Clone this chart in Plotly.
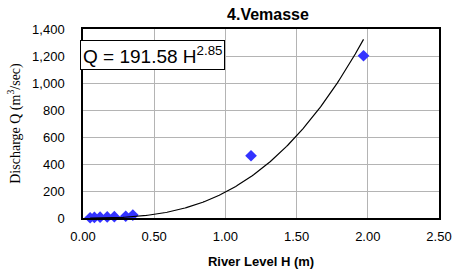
import numpy as np
import plotly.graph_objects as go

# Observed data
river_level_h = [0.05, 0.08, 0.12, 0.17, 0.22, 0.30, 0.35, 1.18, 1.97]
discharge_q = [2, 4, 6, 8, 10, 13, 22, 461, 1202]

# Power trendline: Q = a * H^b
coef_a = 191.58
coef_b = 2.85
fit_h_min = 0.05
fit_h_max = 1.97

x_ticks = [0.0, 0.5, 1.0, 1.5, 2.0, 2.5]
y_ticks = [0, 200, 400, 600, 800, 1000, 1200, 1400]

fit_h = np.linspace(fit_h_min, fit_h_max, 200)
fit_q = coef_a * fit_h ** coef_b

fig = go.Figure()
fig.add_trace(go.Scatter(
    x=river_level_h, y=discharge_q, mode="markers",
    marker=dict(symbol="diamond", size=9, color="#3333FF", line=dict(width=0)),
    cliponaxis=False, showlegend=False,
))
fig.add_trace(go.Scatter(
    x=fit_h, y=fit_q, mode="lines",
    line=dict(color="black", width=1.2),
    showlegend=False,
))

fig.update_layout(
    width=452, height=276,
    margin=dict(l=83, r=13, t=29, b=58),
    paper_bgcolor="white", plot_bgcolor="white",
    font=dict(family="Liberation Sans, Arial, sans-serif", size=13, color="black"),
    title=dict(text="<b>4.Vemasse</b>", x=268 / 452, xanchor="center",
               y=1 - 14 / 276, yanchor="middle",
               font=dict(size=16, color="black")),
    xaxis=dict(
        range=[0, 2.5], tickvals=x_ticks, tickformat=".2f",
        showgrid=True, gridcolor="#B4B4B4", gridwidth=1,
        showline=True, linecolor="black", linewidth=1.5, mirror=True,
        zeroline=False, ticks="", ticklabelstandoff=6, automargin=False,
        title=dict(text="<b>River Level H (m)</b>", font=dict(size=13), standoff=14),
    ),
    yaxis=dict(
        range=[0, 1400], tickvals=y_ticks, tickformat=",",
        showgrid=True, gridcolor="#B4B4B4", gridwidth=1,
        showline=True, linecolor="black", linewidth=1.5, mirror=True,
        zeroline=False, ticks="", ticklabelstandoff=14, automargin=False,
        title=dict(text="Discharge Q (m<sup>3</sup>/sec)",
                   font=dict(family="Liberation Serif, Times New Roman, serif", size=14),
                   standoff=8),
    ),
    annotations=[dict(
        text="Q = 191.58 H<sup>2.85</sup>",
        xref="paper", yref="paper", x=-3 / 356, y=(218 - 40) / 189,
        xanchor="left", yanchor="top", showarrow=False,
        font=dict(size=19, color="black"),
        bgcolor="white", bordercolor="black", borderwidth=1, borderpad=2,
    )],
)

fig.write_html("out.html", config={"displayModeBar": False},
               post_script="document.body.style.margin='0';")
